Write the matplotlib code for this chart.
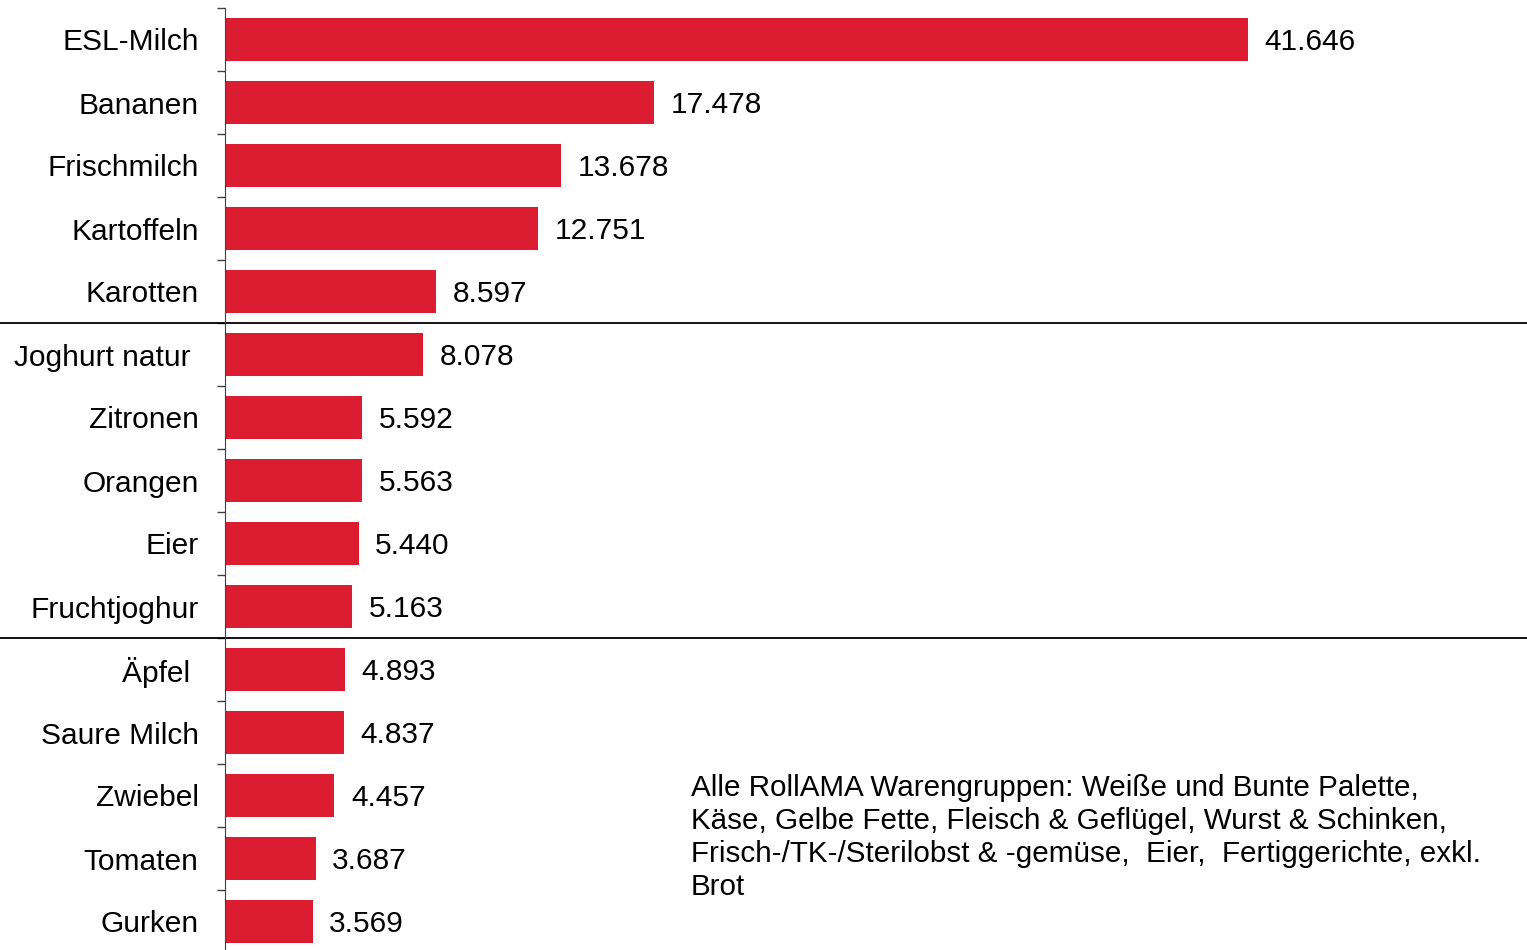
import matplotlib.pyplot as plt
from matplotlib.transforms import blended_transform_factory

categories = ["ESL-Milch", "Bananen", "Frischmilch", "Kartoffeln", "Karotten",
              "Joghurt natur ", "Zitronen", "Orangen", "Eier", "Fruchtjoghur",
              "Äpfel ", "Saure Milch", "Zwiebel", "Tomaten", "Gurken"]
values = [41646, 17478, 13678, 12751, 8597,
          8078, 5592, 5563, 5440, 5163,
          4893, 4837, 4457, 3687, 3569]
note = ("Alle RollAMA Warengruppen: Weiße und Bunte Palette,\n"
        "Käse, Gelbe Fette, Fleisch & Geflügel, Wurst & Schinken,\n"
        "Frisch-/TK-/Sterilobst & -gemüse,  Eier,  Fertiggerichte, exkl.\n"
        "Brot")

plt.rcParams['font.family'] = ['Liberation Sans', 'DejaVu Sans']

W, H = 1527, 950
fig = plt.figure(figsize=(W / 100, H / 100), dpi=100)
ax = fig.add_axes([225 / W, -3 / H, 1 - 225 / W, 945 / H])

pos = list(range(len(categories)))
ax.barh(pos, values, height=0.67, color='#DC1C30')
for p, v in zip(pos, values):
    ax.annotate(f"{v:,}".replace(",", "."), (v, p), xytext=(12, -2),
                textcoords='offset points', va='center', ha='left', fontsize=21.5)

ax.set_xlim(0, 53000)
ax.set_ylim(len(categories) - 0.5, -0.5)
ax.set_xticks([])
ax.set_yticks(pos)
ax.set_yticklabels(categories, fontsize=21.5)
ax.set_yticks([p - 0.5 for p in pos] + [len(pos) - 0.5], minor=True)
ax.tick_params(axis='y', which='major', length=0, pad=19)
ax.tick_params(axis='y', which='minor', length=6, width=1, direction='out', color='#404040')
for s in ['top', 'right', 'bottom']:
    ax.spines[s].set_visible(False)
ax.spines['left'].set_color('#404040')

# separator lines across the whole figure width
tr = blended_transform_factory(fig.transFigure, ax.transData)
for y in [4.5, 9.5]:
    ax.plot([0, 1], [y, y], transform=tr, color='black', lw=1.3, clip_on=False)

fig.text(691 / W, 1 - 774 / H, note, fontsize=21.3, va='top', ha='left', linespacing=1.22)

fig.savefig("out.png", dpi=100)
